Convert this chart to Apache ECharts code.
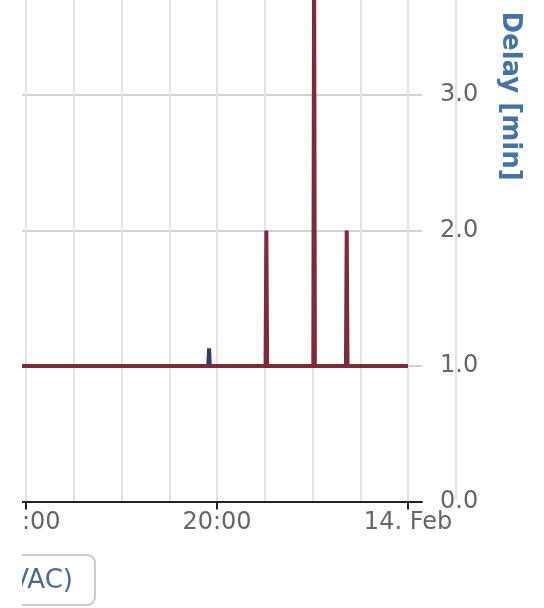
<!DOCTYPE html>
<html><head><meta charset="utf-8">
<script src="https://cdn.jsdelivr.net/npm/echarts@6/dist/echarts.min.js"></script>
<style>html,body{margin:0;padding:0;background:#fff}#c{width:544px;height:608px}</style>
</head><body><div id="c"></div>
<script>
// Time of day (13 Feb; "24:00" = 14 Feb 00:00) and delay in minutes
const redTimes  = ["15:00","21:01","21:02","21:03","22:01","22:02","22:03","22:42","22:43","22:44","24:00"];
const redValues = [1, 1, 2, 1, 1, 4, 1, 1, 2, 1, 1];
const blueTimes  = ["15:00","19:49","19:50","19:51","24:00"];
const blueValues = [1, 1, 1.13, 1, 1];
const gridHours = [16, 17, 18, 19, 20, 21, 22, 23, 24];
const xTickHours = [16, 20, 24];
const xTickLabels = ["16:00", "20:00", "14. Feb"];
const yTicks = [0, 1, 2, 3];
const yTitle = "Delay [min]";
const legendText = "(VAC)";

function toH(s){ const p = s.split(":"); return (+p[0]) + (+p[1]) / 60; }
function pairs(t, v){ return t.map((s, i) => [toH(s), v[i]]); }

const chart = echarts.init(document.getElementById('c'), null, {renderer: 'canvas'});
const font = 'DejaVu Sans';
const xMin = 15.4555, xMax = 24.293;
chart.setOption({
  animation: false,
  backgroundColor: '#fff',
  grid: {left: 0, right: 122, top: 0, bottom: 106.5, containLabel: false, outerBoundsMode: 'none'},
  xAxis: [{
    type: 'value', min: xMin, max: xMax,
    axisLine: {show: false},
    axisTick: {show: false, customValues: gridHours},
    axisLabel: {show: true, customValues: xTickHours, margin: 9, color: '#666',
      fontFamily: font, fontSize: 24, hideOverlap: false,
      formatter: v => { const i = xTickHours.indexOf(v); return i >= 0 ? xTickLabels[i] : ''; }},
    splitLine: {show: true, lineStyle: {color: '#e3e3e3', width: 2}}
  }, {
    type: 'value', min: xMin, max: xMax, position: 'bottom',
    axisLine: {show: true, lineStyle: {color: '#222', width: 2}},
    axisTick: {show: true, customValues: xTickHours, length: 8, lineStyle: {color: '#222', width: 2}},
    axisLabel: {show: false},
    splitLine: {show: false}
  }],
  yAxis: {
    type: 'value', position: 'right', min: 0, max: 3.701,
    axisLine: {show: false},
    axisTick: {show: false, customValues: yTicks},
    axisLabel: {show: true, customValues: yTicks, margin: 18, color: '#666', fontFamily: font, fontSize: 24,
      padding: [6, 0, 0, 0], formatter: v => v.toFixed(1)},
    splitLine: {show: true, lineStyle: {color: '#d2d2d2', width: 2}}
  },
  series: [
    {type: 'line', data: pairs(blueTimes, blueValues), showSymbol: false, clip: true,
     lineStyle: {color: '#2e3f5f', width: 4}, z: 2},
    {type: 'line', data: pairs(redTimes, redValues), showSymbol: false, clip: true,
     lineStyle: {color: '#7d2a3b', width: 4}, z: 3}
  ],
  graphic: [
    {type: 'line', shape: {x1: 456, y1: 0, x2: 456, y2: 500}, style: {stroke: '#e3e3e3', lineWidth: 2}, z: -1},
    {type: 'text', x: 510, y: 96, rotation: -Math.PI / 2,
     style: {text: yTitle, fill: '#4572A7', font: 'bold 26px "DejaVu Sans"', textAlign: 'center', textVerticalAlign: 'middle'}, z: 5},
    {type: 'rect', shape: {x: -30, y: 555, width: 125, height: 50, r: 8},
     style: {fill: '#fff', stroke: '#bbb', lineWidth: 1.5}, z: 5},
    {type: 'text', x: 73, y: 581,
     style: {text: legendText, fill: '#4a6a94', font: '26px "DejaVu Sans"', textAlign: 'right', textVerticalAlign: 'middle'}, z: 6},
    {type: 'rect', shape: {x: 0, y: 0, width: 22, height: 608}, style: {fill: '#fff'}, z: 100}
  ]
});
</script></body></html>
